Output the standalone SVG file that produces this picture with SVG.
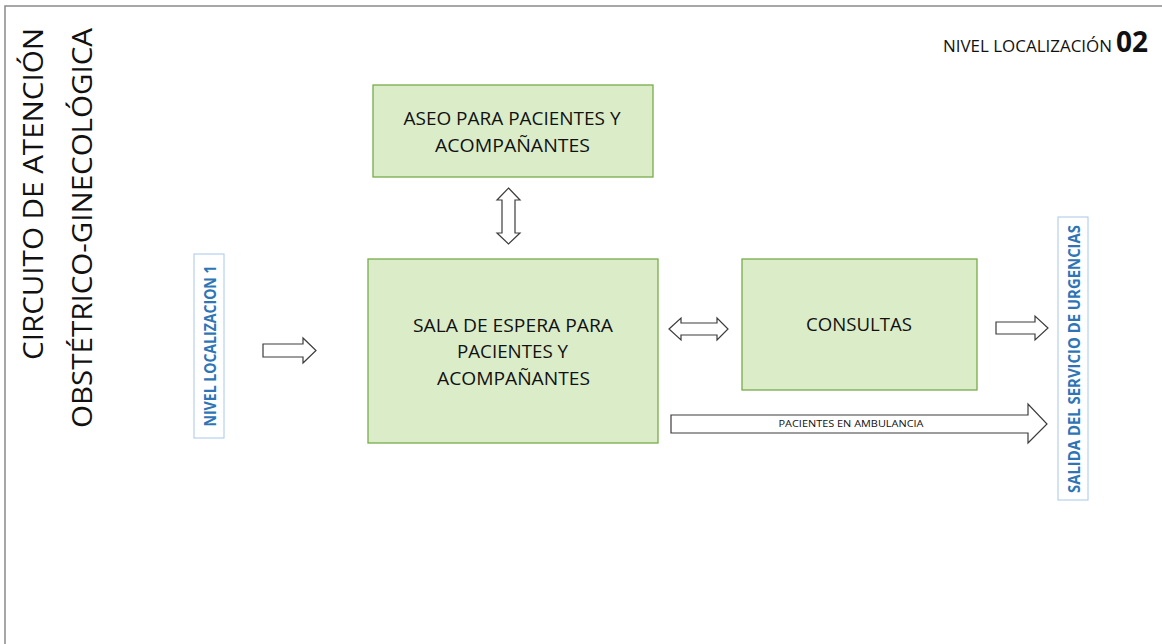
<svg xmlns="http://www.w3.org/2000/svg" width="1162" height="644" viewBox="0 0 1162 644">
<style>
.box{fill:#dbecc9;stroke:#77ad4c;stroke-width:1.3}
.bt{font-family:"Open Sans","Liberation Sans",sans-serif;font-size:18px;fill:#111;text-anchor:middle}
.arr{fill:#fff;stroke:#3c3c3c;stroke-width:1.2;stroke-linejoin:miter}
.lbl{fill:#fff;stroke:#a9c8e8;stroke-width:1}
.lt{font-family:"Open Sans","Liberation Sans",sans-serif;font-weight:bold;font-size:16px;fill:#2e75b6;text-anchor:middle}
.title{font-family:"Open Sans","Liberation Sans",sans-serif;font-size:27px;fill:#111;text-anchor:end}
</style>
<rect width="1162" height="644" fill="#fff"/>
<path d="M5,644 V6 H1162" fill="none" stroke="#8a8a8a" stroke-width="1.5"/>
<g id="title">
<text class="title" transform="translate(43,28) rotate(-90)" textLength="332" lengthAdjust="spacingAndGlyphs">CIRCUITO DE ATENCIÓN</text>
<text class="title" transform="translate(92,28) rotate(-90)" textLength="400" lengthAdjust="spacingAndGlyphs">OBSTÉTRICO-GINECOLÓGICA</text>
</g>
<g id="nivel02">
<text x="1112" y="52" font-family="Open Sans, Liberation Sans, sans-serif" font-size="17" fill="#111" text-anchor="end" textLength="169" lengthAdjust="spacingAndGlyphs">NIVEL LOCALIZACIÓN</text>
<text x="1116" y="52" font-family="Open Sans, Liberation Sans, sans-serif" font-size="28" font-weight="bold" fill="#111">02</text>
</g>
<g id="nivel1">
<rect class="lbl" x="194" y="254" width="30" height="184"/>
<text class="lt" transform="translate(216,346) rotate(-90)" textLength="161" lengthAdjust="spacingAndGlyphs">NIVEL LOCALIZACION 1</text>
</g>
<g id="aseo">
<rect class="box" x="373" y="85" width="280" height="92"/>
<text class="bt" x="512" y="125" textLength="217" lengthAdjust="spacingAndGlyphs">ASEO PARA PACIENTES Y</text>
<text class="bt" x="512.5" y="152" textLength="155" lengthAdjust="spacingAndGlyphs">ACOMPAÑANTES</text>
</g>
<g id="sala">
<rect class="box" x="368" y="259" width="290" height="184"/>
<text class="bt" x="513" y="332" textLength="200" lengthAdjust="spacingAndGlyphs">SALA DE ESPERA PARA</text>
<text class="bt" x="512.5" y="358" textLength="111" lengthAdjust="spacingAndGlyphs">PACIENTES Y</text>
<text class="bt" x="513.5" y="385" textLength="153" lengthAdjust="spacingAndGlyphs">ACOMPAÑANTES</text>
</g>
<g id="consultas">
<rect class="box" x="742" y="259" width="235" height="131"/>
<text class="bt" x="859" y="331" textLength="106" lengthAdjust="spacingAndGlyphs">CONSULTAS</text>
</g>
<g id="salida">
<rect class="lbl" x="1058" y="217" width="30" height="283"/>
<text class="lt" transform="translate(1079.5,359) rotate(-90)" textLength="268" lengthAdjust="spacingAndGlyphs">SALIDA DEL SERVICIO DE URGENCIAS</text>
</g>
<g id="connectors">
<polygon class="arr" points="263,344 303,344 303,338 316,350.5 303,363 303,357 263,357"/>
<polygon class="arr" points="508.5,188 520,200 515,200 515,233 520,233 508.5,244 497,233 502,233 502,200 497,200"/>
<polygon class="arr" points="669,329 681,318 681,323 717,323 717,318 728,329 717,340 717,335 681,335 681,340"/>
<polygon class="arr" points="996,322 1035,322 1035,316 1048,328 1035,340 1035,334 996,334"/>
<polygon class="arr" points="671,415 1028,415 1028,404 1047,424 1028,443 1028,433 671,433"/>
<text x="851" y="427" font-family="Open Sans, Liberation Sans, sans-serif" font-size="9.5" fill="#111" text-anchor="middle" textLength="145" lengthAdjust="spacingAndGlyphs">PACIENTES EN AMBULANCIA</text>
</g>
</svg>
